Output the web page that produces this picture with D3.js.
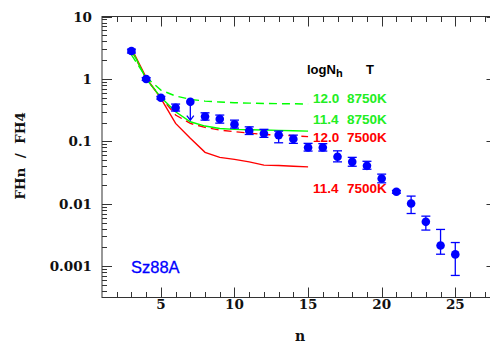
<!DOCTYPE html>
<html><head><meta charset="utf-8">
<script src="https://cdn.jsdelivr.net/npm/d3@7"></script>
<style>body{margin:0;background:#fff}svg{display:block}</style>
</head><body>
<svg id="c" width="490" height="345"></svg>
<script>
// Observed data
const nObs   = [3,4,5,6,7,8,9,10,11,12,13,14,15,16,17,18,19,20,21,22,23,24,25];
const fluxObs= [2.8,1.0,0.5,0.345,0.43,0.25,0.228,0.187,0.148,0.134,0.126,0.109,0.080,0.080,0.0566,0.047,0.0406,0.0255,0.0156,0.0101,0.00515,0.00215,0.00155];
const errLow = [2.6,0.95,0.475,0.306,null,0.219,0.196,0.163,0.129,0.116,0.095,0.093,0.070,0.070,0.047,0.040,0.0358,0.0217,0.0148,0.0070,0.0038,0.00156,0.000713];
const errHigh= [3.0,1.05,0.525,0.396,null,0.287,0.264,0.219,0.171,0.156,0.146,0.126,0.093,0.092,0.0706,0.0555,0.048,0.0299,0.0164,0.0133,0.00635,0.00389,0.0024];
const upperLimitN = 7, upperLimitTo = 0.219;
// Models
const nModel = [3,4,5,6,7,8,9,10,11,12,13,14,15];
const green120 = [2.42,1.06,0.664,0.532,0.471,0.442,0.427,0.416,0.41,0.405,0.402,0.40,0.396];
const green114 = [2.98,1.0,0.507,0.298,0.206,0.176,0.161,0.156,0.154,0.152,0.150,0.148,0.146];
const red120   = [2.9,1.0,0.51,0.264,0.194,0.168,0.152,0.143,0.136,0.129,0.126,0.123,0.119];
const red114   = [3.09,1.05,0.49,0.194,0.112,0.0667,0.0555,0.0515,0.047,0.0417,0.041,0.040,0.039];
const legendLogN = ["12.0","11.4","12.0","11.4"];
const legendT    = ["8750K","8750K","7500K","7500K"];
const xTicks = [5,10,15,20,25];
const yTicks = [10,1,0.1,0.01,0.001];
const yTickLabels = ["10","1","0.1","0.01","0.001"];

const svg = d3.select("#c");
const L=102, T=16.5, B=297.5;
const x = d3.scaleLinear().domain([1,27.8]).range([L, L+26.8*14.72]);
const R = x.range()[1];
const y = d3.scaleLog().domain([Math.pow(10,-3.5),10]).range([B,T]);
const axisCol="#333";
const serif="'DejaVu Serif', serif";

// frame
svg.append("rect").attr("x",L).attr("y",T).attr("width",R-L).attr("height",B-T)
  .attr("fill","none").attr("stroke",axisCol).attr("stroke-width",1);

// x ticks (integers) bottom & top
const g = svg.append("g").attr("stroke",axisCol).attr("stroke-width",1);
for(let i=2;i<=27;i++){
  const len = (i%5===0)?10:5.5;
  const xx = Math.round(x(i))+0.5;
  g.append("line").attr("x1",xx).attr("x2",xx).attr("y1",B).attr("y2",B-len);
  g.append("line").attr("x1",xx).attr("x2",xx).attr("y1",T).attr("y2",T+len);
}
// y ticks
const yMinor=[];
for(let e=-4;e<=0;e++) for(let m=2;m<=9;m++){const v=m*Math.pow(10,e); if(v>=y.domain()[0]&&v<=10) yMinor.push(v);}
yMinor.forEach(v=>{
  const yy=Math.round(y(v))+0.5;
  g.append("line").attr("x1",L).attr("x2",L+5).attr("y1",yy).attr("y2",yy);
  g.append("line").attr("x1",R).attr("x2",R-5).attr("y1",yy).attr("y2",yy);
});
yTicks.forEach(v=>{
  const yy=Math.round(y(v))+0.5;
  g.append("line").attr("x1",L).attr("x2",L+10).attr("y1",yy).attr("y2",yy);
  g.append("line").attr("x1",R).attr("x2",R-10).attr("y1",yy).attr("y2",yy);
});

// tick labels
svg.selectAll(".xl").data(xTicks).enter().append("text")
  .attr("x",d=>x(d)).attr("y",309).attr("text-anchor","middle")
  .attr("font-family",serif).attr("font-weight","bold").attr("font-size",13.5).attr("fill","#111")
  .text(d=>d);
svg.selectAll(".yl").data(yTicks).enter().append("text")
  .attr("x",92).attr("y",d=>y(d)+5).attr("text-anchor","end")
  .attr("font-family",serif).attr("font-weight","bold").attr("font-size",13.5).attr("fill","#111")
  .text((d,i)=>yTickLabels[i]);
svg.append("text").attr("x",300).attr("y",341).attr("text-anchor","middle")
  .attr("font-family",serif).attr("font-weight","bold").attr("font-size",14).attr("fill","#111").text("n");
svg.append("text").attr("transform","translate(25,156) rotate(-90)").attr("text-anchor","middle")
  .attr("font-family",serif).attr("font-weight","bold").attr("font-size",13.5).attr("fill","#111")
  .style("white-space","pre").text("FHn  /  FH4");

// model lines
const line = d3.line().x((d,i)=>x(nModel[i])).y(d=>y(d));
function model(data,col,dash){
  svg.append("path").datum(data).attr("d",line).attr("fill","none").attr("stroke",col)
    .attr("stroke-width",1.4).attr("stroke-dasharray",dash||null);
}
model(red114,"#ff0000");
model(red120,"#ff0000","8,5");
model(green114,"#00ff00");
model(green120,"#00ff00","8,5");

// data
const blue="#0000ff";
const pts = nObs.map((n,i)=>({n,v:fluxObs[i],lo:errLow[i],hi:errHigh[i]}));
const eg = svg.append("g").attr("stroke",blue).attr("stroke-width",1.3);
pts.filter(d=>d.lo!==null).forEach(d=>{
  const xx=x(d.n);
  eg.append("line").attr("x1",xx).attr("x2",xx).attr("y1",y(d.lo)).attr("y2",y(d.hi));
  eg.append("line").attr("x1",xx-4.5).attr("x2",xx+4.5).attr("y1",y(d.lo)).attr("y2",y(d.lo));
  eg.append("line").attr("x1",xx-4.5).attr("x2",xx+4.5).attr("y1",y(d.hi)).attr("y2",y(d.hi));
});
// upper limit arrow
{
  const i=nObs.indexOf(upperLimitN);
  const xx=x(upperLimitN), y0=y(fluxObs[i]), y1=y(upperLimitTo);
  eg.append("line").attr("x1",xx).attr("x2",xx).attr("y1",y0).attr("y2",y1);
  eg.append("path").attr("fill","none").attr("d",`M${xx-3.5},${y1-4.5}L${xx},${y1}L${xx+3.5},${y1-4.5}`);
}
svg.selectAll(".pt").data(pts).enter().append("circle")
  .attr("cx",d=>x(d.n)).attr("cy",d=>y(d.v)).attr("r",4.3).attr("fill",blue);

// legend
const lf="'Liberation Sans', Arial, sans-serif";
const hdr = svg.append("text").attr("x",307).attr("y",73.5).attr("font-family",lf)
  .attr("font-weight","bold").attr("font-size",13).attr("fill","#000");
hdr.append("tspan").text("logN");
hdr.append("tspan").attr("dy",3).attr("font-size",11).text("h");
svg.append("text").attr("x",366).attr("y",73.5).attr("font-family",lf)
  .attr("font-weight","bold").attr("font-size",13).attr("fill","#000").text("T");
const legY=[103,123.5,141.5,192.5];
const legCol=["#22ee22","#22ee22","#ff0000","#ff0000"];
legendLogN.forEach((s,i)=>{
  svg.append("text").attr("x",313).attr("y",legY[i]).attr("font-family",lf)
    .attr("font-weight","bold").attr("font-size",13.5).attr("fill",legCol[i]).text(s);
  svg.append("text").attr("x",347).attr("y",legY[i]).attr("font-family",lf)
    .attr("font-weight","bold").attr("font-size",13.5).attr("fill",legCol[i]).text(legendT[i]);
});
svg.append("text").attr("x",131).attr("y",273).attr("font-family",lf)
  .attr("font-size",16.5).attr("fill",blue).attr("stroke",blue).attr("stroke-width",0.3).text("Sz88A");
</script>
</body></html>
